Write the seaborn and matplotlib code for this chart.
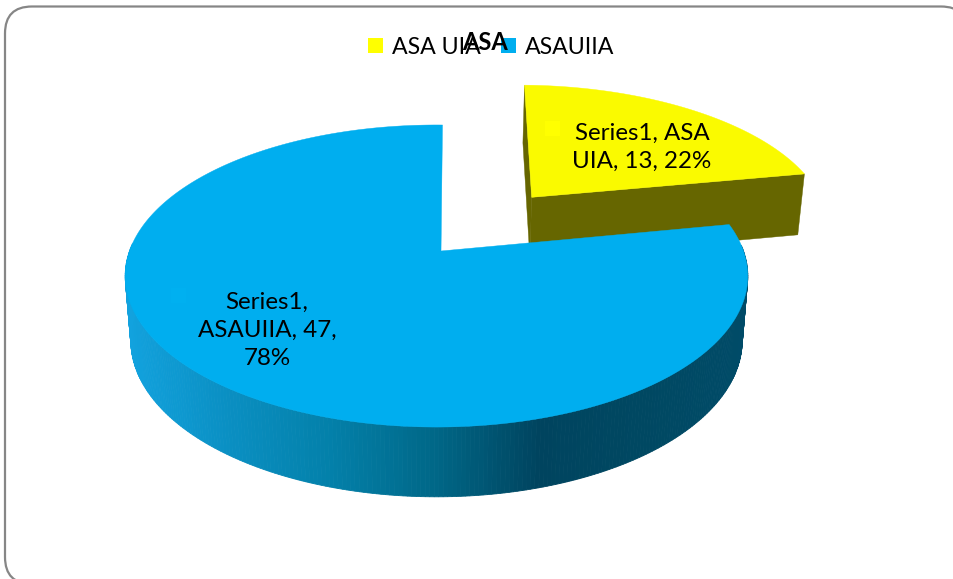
import numpy as np
import matplotlib
matplotlib.use("Agg")
import matplotlib.pyplot as plt
from matplotlib.patches import FancyBboxPatch, Polygon, Rectangle, Patch
import seaborn as sns

# data
categories = ['ASA UIA', 'ASAUIIA']
values = [13, 47]
data_labels = ['Series1, ASA\nUIA, 13, 22%', 'Series1,\nASAUIIA, 47,\n78%']
chart_title = 'ASA'

# colours
yellow = '#FAFA00'
blue = '#00AEEF'
yellow_side = '#666600'
side_cmap = sns.blend_palette(['#12A2DE', '#0A8FC2', '#0380A9', '#006787',
                               '#00445F', '#004862', '#004B68'], as_cmap=True)

sns.set_theme(style="white")
plt.rcParams['font.family'] = ['Lato', 'DejaVu Sans']

fig = plt.figure(figsize=(9.54, 5.79), dpi=100)
ax = fig.add_axes([0, 0, 1, 1])
ax.set_xlim(0, 954)
ax.set_ylim(579, 0)
ax.axis('off')

# the perspective used for the fake 3d pie
cx, cy, R, H, k = 436.5, 251, 307, 146.9, 0.1656
start = np.radians(1.3)


def project(X, Y):
    s = 1 / (1 + k * Y)
    return cx + R * X * s, cy - H * Y * s


def project_low(X, Y):
    # same point on the underside of the pie
    s = 1 / (1 + k * Y)
    return cx + 0.982 * R * X * s, cy - H * Y * s + 32.6 + 31 * s


def rim(t, ox=0, oy=0):
    return ox + np.sin(t), oy + np.cos(t)


sweeps = np.radians(np.array(values) / sum(values) * 360)

# chart frame, runs off the right and bottom of the picture
r = 27
ax.add_patch(FancyBboxPatch((5 + r, 6.5 + r), 968 - 5 - 2 * r, 584 - 6.5 - 2 * r,
                            boxstyle=f'round,pad={r}', fc='white', ec='#868686', lw=1.6))

# yellow slice, pulled out along its bisector
t0, t1 = start, start + sweeps[0]
mid = (t0 + t1) / 2
ex, ey = 0.51 * np.sin(mid), 0.51 * np.cos(mid)
ts = np.linspace(t0, t1, 80)

for a in (t0, t1):
    rx, ry = rim(a, ex, ey)
    pts = [project(ex, ey), project(rx, ry), project_low(rx, ry), project_low(ex, ey)]
    ax.add_patch(Polygon(pts, fc=yellow_side, ec=yellow_side, lw=0.3, zorder=2))

top = [project(ex, ey)] + [project(*rim(a, ex, ey)) for a in ts]
ax.add_patch(Polygon(top, fc=yellow, ec=yellow, lw=0.3, zorder=3))

# blue slice, the side is cut in thin strips to get the gradient
t2 = t1 + sweeps[1]
ts = np.linspace(t1, t2, 400)
for a, b in zip(ts[:-1], ts[1:]):
    xa, ya = rim(a)
    xb, yb = rim(b)
    if ya > 0.05:
        # back of the pie, hidden by the top face
        continue
    pts = [project(xa, ya), project(xb, yb), project_low(xb, yb), project_low(xa, ya)]
    c = side_cmap((pts[0][0] - 125) / 625)
    ax.add_patch(Polygon(pts, fc=c, ec=c, lw=0.6, zorder=4))

top = [project(0.0147, 0)] + [project(*rim(a)) for a in ts]
ax.add_patch(Polygon(top, fc=blue, ec=blue, lw=0.3, zorder=5))

# data labels with their faint keys
ax.add_patch(Rectangle((545, 121), 15, 15, fc='#FFFF00', ec='none', zorder=6))
ax.add_patch(Rectangle((171, 288), 15, 15, fc='#00B0F0', ec='none', zorder=6))
ax.text(642, 147, data_labels[0], ha='center', va='center', fontsize=17.4,
        color='black', linespacing=1.42, zorder=7)
ax.text(267, 330.5, data_labels[1], ha='center', va='center', fontsize=17.4,
        color='black', linespacing=1.42, zorder=7)

# legend and title, they overlap in the original
handles = [Patch(fc='#FFFF00', ec='none'), Patch(fc=blue, ec='none')]
leg = ax.legend(handles, categories, loc='center', bbox_to_anchor=(491, 47),
                bbox_transform=ax.transData, ncols=2, frameon=False, fontsize=16.7,
                handlelength=0.66, handleheight=0.66, handletextpad=0.36,
                columnspacing=0.9, labelcolor='black')
leg.set_zorder(8)
ax.text(485, 42.5, chart_title, ha='center', va='center', fontsize=17,
        fontweight='bold', color='black', zorder=9)

fig.savefig('out.png', dpi=100)
